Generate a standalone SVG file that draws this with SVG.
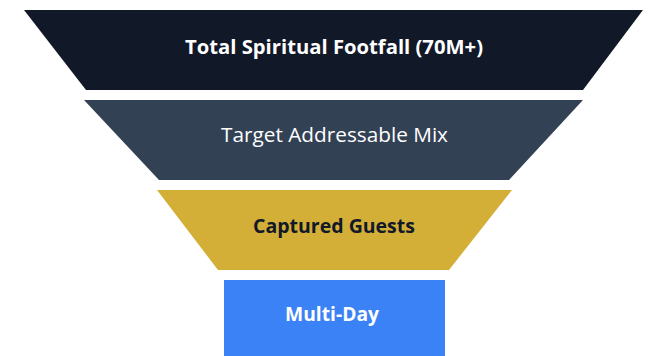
<svg xmlns="http://www.w3.org/2000/svg" width="651" height="356" viewBox="0 0 651 356">
  <style>
    .lbl { font-family: "Open Sans", "Noto Sans", "Liberation Sans", sans-serif; text-anchor: middle; }
    .bold { font-weight: 700; }
    .light { fill: #ffffff; }
    .dark { fill: #111827; }
  </style>
  <rect width="651" height="356" fill="#ffffff"/>
  <!-- funnel tiers, widest at top -->
  <g id="tier-total">
    <polygon points="24,10 643,10 583,90 86,90" fill="#111827"/>
    <text class="lbl bold light" x="334" y="54" font-size="19" textLength="298" lengthAdjust="spacingAndGlyphs">Total Spiritual Footfall (70M+)</text>
  </g>
  <g id="tier-addressable">
    <polygon points="84,100 583,100 509,180 159,180" fill="#334155"/>
    <text class="lbl light" x="334.5" y="142" font-size="20" textLength="227" lengthAdjust="spacingAndGlyphs">Target Addressable Mix</text>
  </g>
  <g id="tier-captured">
    <polygon points="157,190 512,190 449,270 218,270" fill="#D4AF37"/>
    <text class="lbl bold dark" x="334" y="233" font-size="20" textLength="162" lengthAdjust="spacingAndGlyphs">Captured Guests</text>
  </g>
  <g id="tier-multiday">
    <rect x="224" y="280" width="221" height="80" fill="#3B82F6"/>
    <text class="lbl bold light" x="332" y="321" font-size="19" textLength="94" lengthAdjust="spacingAndGlyphs">Multi-Day</text>
  </g>
  <g id="connectors"/>
</svg>
